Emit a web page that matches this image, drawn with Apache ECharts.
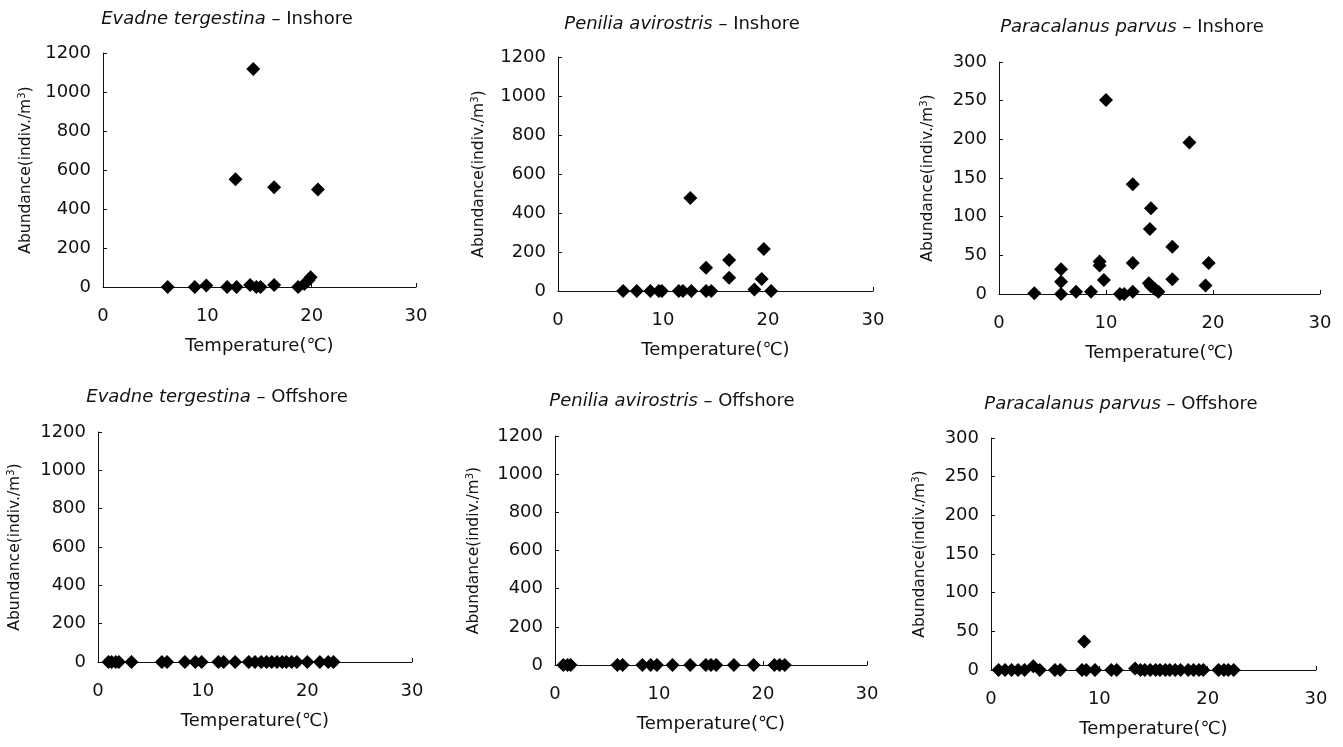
<!DOCTYPE html>
<html>
<head>
<meta charset="utf-8">
<title>Abundance vs temperature</title>
<script src="https://cdn.jsdelivr.net/npm/echarts@6/dist/echarts.min.js"></script>
<style>
  html, body { margin: 0; padding: 0; background: #fff; }
  #chart { width: 1343px; height: 747px; }
</style>
</head>
<body>
<div id="chart"></div>
<script>
// Temperature (°C) vs abundance (indiv./m3) pairs for each species and station group
const evadneInshore = [
  [6.2, 0], [8.8, 0], [9.9, 8], [11.9, 0], [12.7, 552], [12.8, 0], [14.1, 10],
  [14.4, 1118], [14.7, 0], [15.1, 0], [16.4, 10], [16.4, 511], [18.7, 0],
  [19.3, 15], [19.7, 35], [19.9, 50], [20.6, 500]
];
const peniliaInshore = [
  [6.2, 0], [7.5, 0], [8.8, 0], [9.6, 0], [9.9, 0], [11.5, 0], [11.9, 0],
  [12.6, 477], [12.7, 0], [14.1, 119], [14.1, 0], [14.6, 0], [16.3, 159],
  [16.3, 68], [18.7, 8], [19.4, 62], [19.6, 215], [20.3, 0]
];
const paracalanusInshore = [
  [3.3, 1], [5.8, 32], [5.8, 16], [5.8, 0], [7.2, 3], [8.6, 3], [9.4, 42],
  [9.4, 37], [9.8, 18], [10.0, 251], [11.3, 0], [11.7, 0], [12.5, 142],
  [12.5, 40], [12.5, 3], [14.0, 14], [14.1, 84], [14.2, 111], [14.2, 10],
  [14.6, 6], [14.9, 3], [16.2, 61], [16.2, 19], [17.8, 196], [19.3, 11],
  [19.6, 40]
];
const evadneOffshore = [
  [1.0, 0], [1.3, 0], [1.7, 0], [2.0, 0], [3.2, 0], [6.1, 0], [6.6, 0],
  [8.3, 0], [9.3, 0], [9.9, 0], [11.5, 0], [12.0, 0], [13.1, 0], [14.4, 0],
  [15.0, 0], [15.6, 0], [16.1, 0], [16.6, 0], [17.1, 0], [17.6, 0], [18.0, 0],
  [18.5, 0], [19.0, 0], [20.0, 0], [21.2, 0], [22.0, 0], [22.5, 0]
];
const peniliaOffshore = [
  [0.8, 0], [1.2, 0], [1.5, 0], [6.0, 0], [6.5, 0], [8.4, 0], [9.2, 0],
  [9.8, 0], [11.3, 0], [13.0, 0], [14.5, 0], [15.0, 0], [15.5, 0], [17.2, 0],
  [19.1, 0], [21.1, 0], [21.6, 0], [22.1, 0]
];
const paracalanusOffshore = [
  [0.7, 0], [1.3, 0], [1.9, 0], [2.5, 0], [3.1, 0], [3.9, 5], [4.5, 0],
  [5.9, 0], [6.4, 0], [8.4, 0], [8.6, 37], [8.8, 0], [9.6, 0], [11.1, 0],
  [11.6, 0], [13.3, 2], [13.8, 0], [14.2, 0], [14.7, 0], [15.2, 0], [15.6, 0],
  [16.1, 0], [16.5, 0], [17.0, 0], [17.5, 0], [18.2, 0], [18.7, 0], [19.2, 0],
  [19.6, 0], [21.0, 0], [21.5, 0], [21.9, 0], [22.4, 0]
];

const speciesNames = ['Evadne tergestina', 'Penilia avirostris', 'Paracalanus parvus'];
const stationNames = ['Inshore', 'Offshore'];
const yMaxes = [1200, 1200, 300];
const yIntervals = [200, 200, 50];
const xTicks = [0, 10, 20, 30];
const xTitle = 'Temperature(\u2103)';

const panelData = [
  evadneInshore, peniliaInshore, paracalanusInshore,
  evadneOffshore, peniliaOffshore, paracalanusOffshore
];

// Panel geometry in pixels: plot box corners, title centre and y-name gap
const W = 1343, H = 747;
const layout = [
  { x0: 103, x1: 416, y0: 287, y1: 53,  tx: 227,  ty: 20,  gap: 68 },
  { x0: 558, x1: 873, y0: 291, y1: 57,  tx: 682,  ty: 25,  gap: 70 },
  { x0: 999, x1: 1320, y0: 294, y1: 62, tx: 1132, ty: 28,  gap: 62 },
  { x0: 98,  x1: 412, y0: 662, y1: 432, tx: 217,  ty: 398, gap: 74 },
  { x0: 555, x1: 867, y0: 665, y1: 436, tx: 672,  ty: 402, gap: 72 },
  { x0: 991, x1: 1316, y0: 670, y1: 438, tx: 1121, ty: 405, gap: 62 }
];

const FONT = 'DejaVu Sans';
const INK = '#111';

const grids = [], xAxes = [], yAxes = [], series = [], titles = [];
layout.forEach((p, i) => {
  const sp = i % 3, st = Math.floor(i / 3);
  grids.push({
    left: p.x0, right: W - p.x1, top: p.y1, bottom: H - p.y0,
    containLabel: false
  });
  xAxes.push({
    type: 'value', gridIndex: i,
    min: xTicks[0], max: xTicks[xTicks.length - 1], interval: 10,
    name: xTitle, nameLocation: 'middle', nameGap: 50,
    nameTextStyle: { fontFamily: FONT, fontSize: 18, color: INK },
    axisLine: { onZero: false, lineStyle: { color: INK, width: 1 } },
    axisTick: { inside: true, length: 4, lineStyle: { color: INK } },
    axisLabel: { margin: 20, fontFamily: FONT, fontSize: 18, color: INK },
    splitLine: { show: false }
  });
  yAxes.push({
    type: 'value', gridIndex: i,
    min: 0, max: yMaxes[sp], interval: yIntervals[sp],
    name: '{t|Abundance(indiv./m}{s|3}{t|)}',
    nameLocation: 'middle', nameGap: p.gap, nameRotate: 90,
    nameTextStyle: {
      rich: {
        t: { fontFamily: FONT, fontSize: 15.5, color: INK },
        s: { fontFamily: FONT, fontSize: 10, color: INK, verticalAlign: 'top', padding: [0, 0, 8, 0] }
      }
    },
    axisLine: { show: true, onZero: false, lineStyle: { color: INK, width: 1 } },
    axisTick: { show: true, inside: true, length: 4, lineStyle: { color: INK } },
    axisLabel: {
      margin: 12, fontFamily: FONT, fontSize: 18, color: INK,
      formatter: v => String(v)
    },
    splitLine: { show: false }
  });
  series.push({
    type: 'scatter', xAxisIndex: i, yAxisIndex: i,
    symbol: 'diamond', symbolSize: 14,
    itemStyle: { color: '#000', opacity: 1 },
    data: panelData[i],
    silent: true
  });
  titles.push({
    text: '{i|' + speciesNames[sp] + '} \u2013 ' + stationNames[st],
    left: p.tx, top: p.ty - 10, textAlign: 'center', padding: 0,
    textStyle: {
      fontFamily: FONT, fontSize: 18, fontWeight: 'normal', color: INK,
      rich: { i: { fontFamily: FONT, fontSize: 18, fontStyle: 'italic', color: INK } }
    }
  });
});

const chart = echarts.init(document.getElementById('chart'), null, { renderer: 'canvas' });
chart.setOption({
  backgroundColor: '#fff',
  animation: false,
  title: titles,
  grid: grids,
  xAxis: xAxes,
  yAxis: yAxes,
  series: series
});
</script>
</body>
</html>
